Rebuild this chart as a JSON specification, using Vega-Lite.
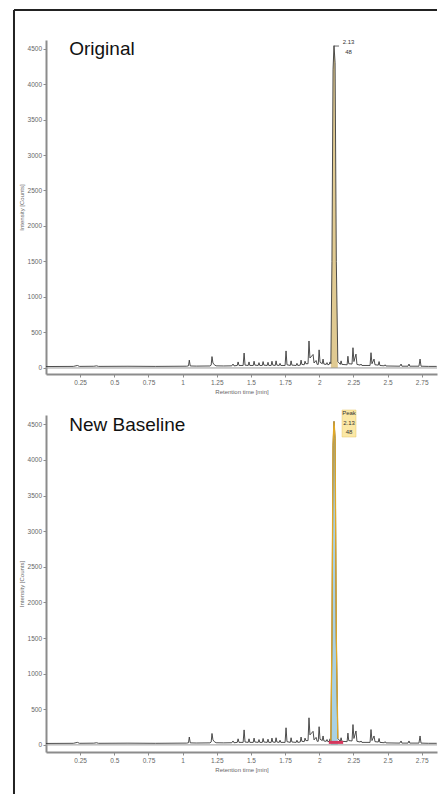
{
  "$schema": "https://vega.github.io/schema/vega-lite/v6.json",
  "background": "white",
  "padding": {"left": 12, "top": 9, "right": 0, "bottom": 0},
  "spacing": 41,
  "bounds": "flush",
  "config": {
    "font": "Liberation Sans",
    "view": {"stroke": null},
    "axis": {
      "domainColor": "#8c8c8c", "domainWidth": 2,
      "tickColor": "#8c8c8c", "tickSize": 3, "tickWidth": 1,
      "labelColor": "#666666", "labelFontSize": 6.5, "labelPadding": 1.5,
      "labelOverlap": false, "labelBound": false, "labelFlush": false,
      "titleColor": "#666666", "titleFontSize": 6, "titleFontWeight": "normal",
      "grid": false
    }
  },
  "datasets": {
    "trace": [
      {"t": 0.0, "v": 20}, {"t": 0.2, "v": 22}, {"t": 0.23, "v": 35}, {"t": 0.245, "v": 22},
      {"t": 0.35, "v": 24}, {"t": 0.37, "v": 30}, {"t": 0.385, "v": 22}, {"t": 0.6, "v": 24},
      {"t": 0.8, "v": 22}, {"t": 1.03, "v": 25},
      {"t": 1.043, "v": 30}, {"t": 1.049, "v": 110}, {"t": 1.056, "v": 28},
      {"t": 1.1, "v": 26}, {"t": 1.2, "v": 28},
      {"t": 1.209, "v": 40}, {"t": 1.215, "v": 160}, {"t": 1.222, "v": 70}, {"t": 1.232, "v": 45}, {"t": 1.245, "v": 30},
      {"t": 1.3, "v": 28}, {"t": 1.36, "v": 30}, {"t": 1.369, "v": 55}, {"t": 1.376, "v": 30},
      {"t": 1.4, "v": 35}, {"t": 1.406, "v": 85}, {"t": 1.413, "v": 35},
      {"t": 1.443, "v": 35}, {"t": 1.45, "v": 210}, {"t": 1.457, "v": 40},
      {"t": 1.48, "v": 35}, {"t": 1.486, "v": 85}, {"t": 1.492, "v": 35},
      {"t": 1.517, "v": 35}, {"t": 1.523, "v": 95}, {"t": 1.529, "v": 40},
      {"t": 1.553, "v": 35}, {"t": 1.559, "v": 75}, {"t": 1.565, "v": 35},
      {"t": 1.583, "v": 35}, {"t": 1.589, "v": 90}, {"t": 1.595, "v": 40},
      {"t": 1.619, "v": 35}, {"t": 1.625, "v": 80}, {"t": 1.631, "v": 35},
      {"t": 1.648, "v": 35}, {"t": 1.654, "v": 95}, {"t": 1.66, "v": 40},
      {"t": 1.678, "v": 35}, {"t": 1.684, "v": 100}, {"t": 1.69, "v": 40},
      {"t": 1.707, "v": 35}, {"t": 1.713, "v": 65}, {"t": 1.719, "v": 35},
      {"t": 1.75, "v": 35}, {"t": 1.757, "v": 240}, {"t": 1.764, "v": 45},
      {"t": 1.788, "v": 35}, {"t": 1.794, "v": 100}, {"t": 1.8, "v": 40},
      {"t": 1.831, "v": 35}, {"t": 1.837, "v": 65}, {"t": 1.843, "v": 35},
      {"t": 1.861, "v": 40}, {"t": 1.867, "v": 110}, {"t": 1.873, "v": 50},
      {"t": 1.89, "v": 45}, {"t": 1.896, "v": 95}, {"t": 1.902, "v": 60},
      {"t": 1.918, "v": 60}, {"t": 1.925, "v": 380}, {"t": 1.932, "v": 140},
      {"t": 1.955, "v": 190}, {"t": 1.962, "v": 70}, {"t": 1.977, "v": 105}, {"t": 1.985, "v": 50},
      {"t": 1.993, "v": 50}, {"t": 1.999, "v": 255}, {"t": 2.006, "v": 80},
      {"t": 2.022, "v": 60}, {"t": 2.028, "v": 125}, {"t": 2.034, "v": 55},
      {"t": 2.051, "v": 50}, {"t": 2.057, "v": 75}, {"t": 2.063, "v": 45},
      {"t": 2.073, "v": 50}, {"t": 2.079, "v": 85},
      {"t": 2.085, "v": 60}, {"t": 2.093, "v": 1500}, {"t": 2.101, "v": 4200}, {"t": 2.108, "v": 4540},
      {"t": 2.116, "v": 4300}, {"t": 2.125, "v": 1500}, {"t": 2.136, "v": 90},
      {"t": 2.154, "v": 50}, {"t": 2.16, "v": 100}, {"t": 2.166, "v": 50},
      {"t": 2.204, "v": 45}, {"t": 2.21, "v": 165}, {"t": 2.216, "v": 60},
      {"t": 2.24, "v": 55}, {"t": 2.247, "v": 285}, {"t": 2.254, "v": 90},
      {"t": 2.269, "v": 195}, {"t": 2.276, "v": 50}, {"t": 2.3, "v": 40}, {"t": 2.306, "v": 55}, {"t": 2.312, "v": 35},
      {"t": 2.372, "v": 35}, {"t": 2.379, "v": 215}, {"t": 2.386, "v": 60},
      {"t": 2.401, "v": 125}, {"t": 2.408, "v": 45},
      {"t": 2.432, "v": 40}, {"t": 2.438, "v": 90}, {"t": 2.444, "v": 35},
      {"t": 2.476, "v": 30}, {"t": 2.482, "v": 45}, {"t": 2.488, "v": 28},
      {"t": 2.59, "v": 25}, {"t": 2.599, "v": 55}, {"t": 2.605, "v": 25},
      {"t": 2.65, "v": 25}, {"t": 2.657, "v": 55}, {"t": 2.663, "v": 25},
      {"t": 2.73, "v": 25}, {"t": 2.738, "v": 125}, {"t": 2.745, "v": 25},
      {"t": 2.8, "v": 22}, {"t": 2.86, "v": 22}
    ]
  },
  "vconcat": [
    {
      "width": 391,
      "height": 334,
      "resolve": {"axis": {"x": "independent", "y": "independent"}},
      "layer": [
        {"data": {"name": "trace"}, "transform": [{"filter": "datum.t >= 2.085 && datum.t <= 2.136"}],
         "mark": {"type": "area", "color": "#e0ca92"},
         "encoding": {
           "x": {"field": "t", "type": "quantitative",
                 "scale": {"domain": [0, 2.862], "nice": false, "zero": false},
                 "axis": {"values": [0.25, 0.5, 0.75, 1, 1.25, 1.5, 1.75, 2, 2.25, 2.5, 2.75], "labelExpr": "toString(datum.value)", "labelOverlap": false, "title": "Retention time [min]", "titlePadding": 3, "labelPadding": 2}},
           "y": {"field": "v", "type": "quantitative",
                 "scale": {"domain": [-85, 4620], "nice": false, "zero": false},
                 "axis": {"values": [0, 500, 1000, 1500, 2000, 2500, 3000, 3500, 4000, 4500], "format": "d", "labelOverlap": false, "title": "Intensity [Counts]", "titlePadding": 3}}
         }},
        {"data": {"name": "trace"}, "mark": {"type": "line", "color": "#3a3a3a", "strokeWidth": 0.9},
         "encoding": {
           "x": {"field": "t", "type": "quantitative", "scale": {"domain": [0, 2.862], "nice": false, "zero": false}, "axis": null},
           "y": {"field": "v", "type": "quantitative", "scale": {"domain": [-85, 4620], "nice": false, "zero": false}, "axis": null}
         }},
        {"data": {"values": [{"k": 1}]}, "mark": {"type": "rule", "color": "#9a9a9a", "strokeWidth": 1},
         "encoding": {"y": {"datum": 0, "axis": null}, "x": {"datum": 0, "axis": null}, "x2": {"datum": 2.862}}},
        {"data": {"values": [{"k": 1}]}, "mark": {"type": "rule", "color": "#444444", "strokeWidth": 0.8},
         "encoding": {"x": {"datum": 2.108, "axis": null}, "x2": {"datum": 2.145}, "y": {"datum": 4535, "axis": null}}},
        {"data": {"values": [{"k": 1}]}, "mark": {"type": "text", "text": "Original", "fontSize": 19, "align": "left", "baseline": "alphabetic", "color": "#111111"},
         "encoding": {"x": {"datum": 0.17, "axis": null}, "y": {"datum": 4409, "axis": null}}},
        {"data": {"values": [{"k": 1}]}, "mark": {"type": "text", "text": "2.13", "fontSize": 6, "align": "center", "baseline": "middle", "color": "#333333"},
         "encoding": {"x": {"datum": 2.214, "axis": null}, "y": {"datum": 4592, "axis": null}}},
        {"data": {"values": [{"k": 1}]}, "mark": {"type": "text", "text": "48", "fontSize": 6, "align": "center", "baseline": "middle", "color": "#333333"},
         "encoding": {"x": {"datum": 2.214, "axis": null}, "y": {"datum": 4451, "axis": null}}},
        {"data": {"values": [{"k": 1}]}, "mark": {"type": "rule", "color": "#222222", "strokeWidth": 2},
         "encoding": {"x": {"datum": -0.2343, "axis": null}, "x2": {"datum": 2.862}, "y": {"datum": 5042, "axis": null}}},
        {"data": {"values": [{"k": 1}]}, "mark": {"type": "rule", "color": "#222222", "strokeWidth": 2},
         "encoding": {"x": {"datum": -0.2343, "axis": null}, "y": {"datum": 5042, "axis": null}, "y2": {"datum": -6000}}}
      ]
    },
    {
      "width": 391,
      "height": 337,
      "resolve": {"axis": {"x": "independent", "y": "independent"}},
      "layer": [
        {"data": {"name": "trace"}, "transform": [{"filter": "datum.t >= 2.085 && datum.t <= 2.136"}],
         "mark": {"type": "area", "color": "#a9d1e2"},
         "encoding": {
           "x": {"field": "t", "type": "quantitative",
                 "scale": {"domain": [0, 2.862], "nice": false, "zero": false},
                 "axis": {"values": [0.25, 0.5, 0.75, 1, 1.25, 1.5, 1.75, 2, 2.25, 2.5, 2.75], "labelExpr": "toString(datum.value)", "labelOverlap": false, "title": "Retention time [min]", "titlePadding": 3, "labelPadding": 2}},
           "y": {"field": "v", "type": "quantitative",
                 "scale": {"domain": [-100, 4630], "nice": false, "zero": false},
                 "axis": {"values": [0, 500, 1000, 1500, 2000, 2500, 3000, 3500, 4000, 4500], "format": "d", "labelOverlap": false, "title": "Intensity [Counts]", "titlePadding": 3}}
         }},
        {"data": {"name": "trace"}, "mark": {"type": "line", "color": "#3a3a3a", "strokeWidth": 0.9},
         "encoding": {
           "x": {"field": "t", "type": "quantitative", "scale": {"domain": [0, 2.862], "nice": false, "zero": false}, "axis": null},
           "y": {"field": "v", "type": "quantitative", "scale": {"domain": [-100, 4630], "nice": false, "zero": false}, "axis": null}
         }},
        {"data": {"name": "trace"}, "transform": [{"filter": "datum.t >= 2.085 && datum.t <= 2.136"}],
         "mark": {"type": "line", "color": "#e0a828", "strokeWidth": 1.3},
         "encoding": {
           "x": {"field": "t", "type": "quantitative", "scale": {"domain": [0, 2.862], "nice": false, "zero": false}, "axis": null},
           "y": {"field": "v", "type": "quantitative", "scale": {"domain": [-100, 4630], "nice": false, "zero": false}, "axis": null}
         }},
        {"data": {"values": [{"k": 1}]}, "mark": {"type": "rule", "color": "#9a9a9a", "strokeWidth": 1},
         "encoding": {"y": {"datum": 0, "axis": null}, "x": {"datum": 0, "axis": null}, "x2": {"datum": 2.862}}},
        {"data": {"values": [{"k": 1}]}, "mark": {"type": "rule", "color": "#d6365c", "strokeWidth": 3},
         "encoding": {"x": {"datum": 2.07, "axis": null}, "x2": {"datum": 2.175}, "y": {"datum": 35, "axis": null}}},
        {"data": {"values": [{"k": 1}]}, "mark": {"type": "text", "text": "New Baseline", "fontSize": 19, "align": "left", "baseline": "alphabetic", "color": "#111111"},
         "encoding": {"x": {"datum": 0.17, "axis": null}, "y": {"datum": 4410, "axis": null}}},
        {"data": {"values": [{"k": 1}]}, "mark": {"type": "rect", "color": "#fbe8a6", "stroke": "#e6c766", "strokeWidth": 0.5},
         "encoding": {"x": {"datum": 2.167, "axis": null}, "x2": {"datum": 2.269}, "y": {"datum": 4700, "axis": null}, "y2": {"datum": 4321}}},
        {"data": {"values": [{"k": 1}]}, "mark": {"type": "text", "text": "Peak", "fontSize": 6, "align": "center", "baseline": "middle", "color": "#333333"},
         "encoding": {"x": {"datum": 2.218, "axis": null}, "y": {"datum": 4658, "axis": null}}},
        {"data": {"values": [{"k": 1}]}, "mark": {"type": "text", "text": "2.13", "fontSize": 6, "align": "center", "baseline": "middle", "color": "#333333"},
         "encoding": {"x": {"datum": 2.218, "axis": null}, "y": {"datum": 4518, "axis": null}}},
        {"data": {"values": [{"k": 1}]}, "mark": {"type": "text", "text": "48", "fontSize": 6, "align": "center", "baseline": "middle", "color": "#333333"},
         "encoding": {"x": {"datum": 2.218, "axis": null}, "y": {"datum": 4391, "axis": null}}}
      ]
    }
  ]
}
